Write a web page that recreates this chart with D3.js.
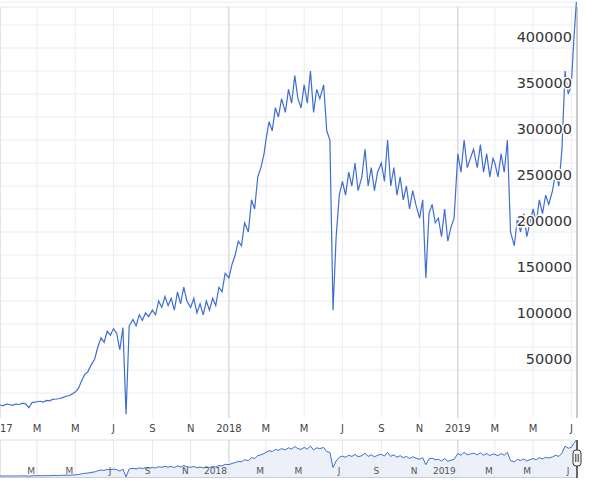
<!DOCTYPE html>
<html><head><meta charset="utf-8">
<script src="https://cdn.jsdelivr.net/npm/d3@7"></script>
<style>body{margin:0;background:#fff}svg{display:block;font-family:"DejaVu Sans",sans-serif}</style>
</head><body><div id="chart"></div>
<script>
// six readings per month, Jan 2017 .. Jun 2019, then early July 2019
const values = [
  12000,11000,13000,12500,11500,13000,
  12500,14000,13000,9000,14500,15000,
  15500,16000,15000,17000,16500,18000,
  18500,19000,20000,21500,22000,24000,
  26000,30000,38000,45000,48000,55000,
  62000,75000,85000,80000,92000,88000,
  95000,90000,72000,96000,2000,98000,
  105000,98000,110000,104000,112000,108000,
  115000,110000,125000,118000,130000,120000,
  128000,115000,135000,122000,140000,125000,
  118000,128000,112000,122000,110000,125000,
  115000,128000,120000,140000,135000,155000,
  150000,165000,175000,190000,185000,210000,
  200000,235000,225000,260000,270000,285000,
  300000,320000,310000,335000,325000,345000,
  330000,355000,340000,370000,345000,335000,
  360000,340000,375000,330000,355000,345000,
  360000,310000,300000,115000,195000,240000,
  255000,240000,265000,250000,275000,245000,
  260000,290000,250000,270000,245000,265000,
  275000,255000,300000,250000,270000,240000,
  260000,235000,250000,225000,245000,230000,
  215000,235000,150000,220000,230000,210000,
  215000,195000,225000,190000,205000,215000,
  285000,265000,300000,270000,280000,290000,
  270000,295000,265000,285000,260000,280000,
  275000,260000,285000,265000,300000,200000,
  185000,215000,200000,220000,195000,210000,
  225000,210000,235000,220000,240000,230000,
  245000,265000,250000,290000,375000,350000
];
const julyValues = [360000, 410000, 450000];
const julyDays = [1, 5, 9];
const yTicks = [50000,100000,150000,200000,250000,300000,350000,400000];

const data = values.map((v, i) => ({date: new Date(2017, Math.floor(i / 6), 1 + (i % 6) * 5), value: v}))
  .concat(julyValues.map((v, i) => ({date: new Date(2019, 6, julyDays[i]), value: v})));

const W = 589, H = 490, right = 577;
const svg = d3.select("#chart").append("svg").attr("width", W).attr("height", H);

const x = d3.scaleTime().domain([new Date(2017,0,1), new Date(2019,6,10)]).range([0, right]);
const y = d3.scaleLinear().domain([0, 400000]).range([416, 48]);
const yn = d3.scaleLinear().domain([0, 450000]).range([477, 440]);

const months = d3.timeMonth.every(2).range(new Date(2017,0,1), new Date(2019,7,1));
const fmt = d => d.getMonth() === 0 ? (d.getFullYear() === 2017 ? "17" : String(d.getFullYear())) : d3.timeFormat("%b")(d)[0];

// horizontal grid every 25000
svg.append("g").selectAll("line").data(d3.range(25000, 475000, 25000))
  .join("line").attr("x1", 0).attr("x2", right).attr("y1", d => y(d)).attr("y2", d => y(d))
  .attr("stroke", "#ececf4");
svg.append("line").attr("x1",0).attr("x2",right).attr("y1",7).attr("y2",7).attr("stroke","#e6e6ee");
// vertical grid
svg.append("g").selectAll("line").data(months).join("line")
  .attr("x1", d => x(d)).attr("x2", d => x(d)).attr("y1", 7).attr("y2", 418)
  .attr("stroke", d => d.getMonth() === 0 ? "#c8c8d0" : "#ececf4");
svg.append("line").attr("x1",right).attr("x2",right).attr("y1",7).attr("y2",418).attr("stroke","#999");

svg.append("clipPath").attr("id","c").append("rect").attr("x",0).attr("y",0).attr("width",right).attr("height",418);
svg.append("path").datum(data).attr("clip-path","url(#c)")
  .attr("fill","none").attr("stroke","#3e6ed0").attr("stroke-width",1.2)
  .attr("d", d3.line().x(d => x(d.date)).y(d => y(d.value)));

// y labels
svg.append("g").selectAll("text").data(yTicks).join("text")
  .attr("x", 572).attr("y", d => y(d) - 6).attr("text-anchor","end")
  .attr("font-size", 14.5).attr("fill","#333")
  .attr("stroke","#fff").attr("stroke-width",3).attr("paint-order","stroke")
  .text(d => d);

// x labels
svg.append("g").selectAll("text").data(months).join("text")
  .attr("x", d => x(d)).attr("y", 432).attr("text-anchor", d => d.getMonth()===0 && d.getFullYear()===2017 ? "start" : "middle")
  .attr("font-size", 10).attr("fill","#444").text(fmt);

// navigator
svg.append("line").attr("x1",0).attr("x2",right).attr("y1",440).attr("y2",440).attr("stroke","#e0e0e8");
svg.append("g").selectAll("line").data(months).join("line")
  .attr("x1", d => x(d)).attr("x2", d => x(d)).attr("y1", 440).attr("y2", 478)
  .attr("stroke", d => d.getMonth() === 0 ? "#c8c8d0" : "#e6e6ee");
svg.append("path").datum(data).attr("fill","#e8edf8").attr("fill-opacity",0.85)
  .attr("d", d3.area().x(d => x(d.date)).y0(477).y1(d => yn(d.value)));
svg.append("path").datum(data).attr("fill","none").attr("stroke","#3e6ed0").attr("stroke-width",1)
  .attr("d", d3.line().x(d => x(d.date)).y(d => yn(d.value)));
svg.append("line").attr("x1",0).attr("x2",right).attr("y1",477.5).attr("y2",477.5).attr("stroke","#ccd");
svg.append("g").selectAll("text").data(months.filter(d => d > new Date(2017,1,1))).join("text")
  .attr("x", d => x(d) - 2).attr("y", 474).attr("text-anchor","end")
  .attr("font-size", 9).attr("fill","#555").text(fmt);
svg.append("line").attr("x1",right).attr("x2",right).attr("y1",440).attr("y2",478).attr("stroke","#333").attr("stroke-width",1.5);
const h = svg.append("g").attr("transform", `translate(${right},458)`);
h.append("rect").attr("x",-4).attr("y",-8).attr("width",8).attr("height",16).attr("rx",3)
  .attr("fill","#f2f2f2").attr("stroke","#333");
h.append("line").attr("x1",-1.2).attr("x2",-1.2).attr("y1",-4).attr("y2",4).attr("stroke","#333");
h.append("line").attr("x1",1.2).attr("x2",1.2).attr("y1",-4).attr("y2",4).attr("stroke","#333");
</script></body></html>
